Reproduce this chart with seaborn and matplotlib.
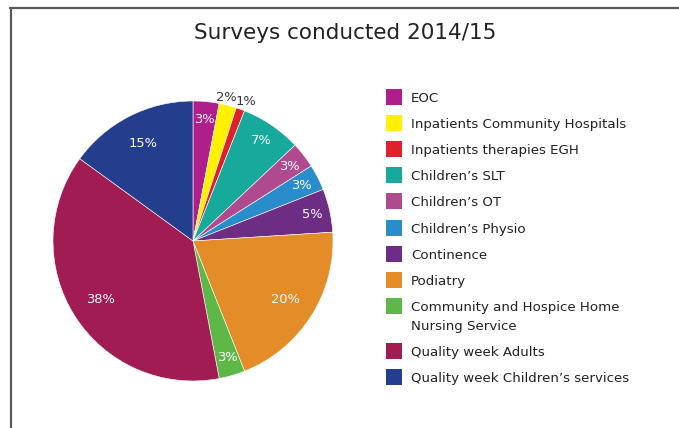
import matplotlib
matplotlib.use("Agg")
import matplotlib.pyplot as plt
from matplotlib.lines import Line2D
from matplotlib.patches import Rectangle
import numpy as np
import seaborn as sns

categories = [
    "EOC",
    "Inpatients Community Hospitals",
    "Inpatients therapies EGH",
    "Children\u2019s SLT",
    "Children\u2019s OT",
    "Children\u2019s Physio",
    "Continence",
    "Podiatry",
    "Community and Hospice Home\nNursing Service",
    "Quality week Adults",
    "Quality week Children\u2019s services",
]
shares = [3, 2, 1, 7, 3, 3, 5, 20, 3, 38, 15]
colors = [
    "#B01E8C", "#FFF100", "#E0212B", "#17A99B", "#B04A8F", "#2A8DCB",
    "#6E2D85", "#E38C28", "#5DB848", "#A11C53", "#243E8D",
]
# thin slices whose labels sit just outside the rim: (horizontal anchor, nudge)
outside_labels = {
    "Inpatients Community Hospitals": ("right", 0.045),
    "Inpatients therapies EGH": ("left", -0.055),
}

sns.set_theme(style="white")
plt.rcParams["font.family"] = ["DejaVu Sans"]

W, H = 679, 428
fig = plt.figure(figsize=(W / 100, H / 100), dpi=100)
fig.patch.set_facecolor("white")

# pie axes: centre (193, 241) px, radius 140 px
cx, cy, r = 193, 241, 140
ax = fig.add_axes([(cx - r) / W, (H - cy - r) / H, 2 * r / W, 2 * r / H])

wedges, _ = ax.pie(
    shares,
    colors=colors,
    startangle=90,
    counterclock=False,
    radius=1.0,
    wedgeprops=dict(linewidth=0.4, edgecolor="white"),
)
ax.set_xlim(-1, 1)
ax.set_ylim(-1, 1)
ax.set_aspect("equal")
ax.axis("off")

for w, name, val in zip(wedges, categories, shares):
    mid = np.deg2rad((w.theta1 + w.theta2) / 2)
    ha, shift = "center", 0.0
    if name in outside_labels:
        d, col = 1.06, "#333333"
        ha, shift = outside_labels[name]
    elif val >= 10:
        d, col = 0.78, "white"
    else:
        d, col = 0.87, "white"
    ax.text(d * np.cos(mid) + shift, d * np.sin(mid), f"{val}%", ha=ha, va="center",
            color=col, fontsize=9.4, clip_on=False)

# title
fig.text(345 / W, 1 - 39 / H, "Surveys conducted 2014/15", ha="center", va="baseline",
         fontsize=15.5, color="#222222")

# legend
row_y = [97, 123, 149, 175, 201, 228, 254, 280, 306, 351, 377]
line_gap = 19
for name, col, y in zip(categories, colors, row_y):
    fig.add_artist(Rectangle((386 / W, 1 - (y + 8) / H), 16 / W, 16 / H,
                             transform=fig.transFigure, facecolor=col, edgecolor="none"))
    for i, line in enumerate(name.split("\n")):
        fig.text(411 / W, 1 - (y + 5 + i * line_gap) / H, line, ha="left", va="baseline",
                 fontsize=9.6, color="#222222")

# frame lines
fig.add_artist(Line2D([10 / W, 1], [1 - 7.5 / H, 1 - 7.5 / H], transform=fig.transFigure,
                      color="#5a5a5a", lw=1.6))
fig.add_artist(Line2D([10.5 / W, 10.5 / W], [0, 1 - 7.5 / H], transform=fig.transFigure,
                      color="#5a5a5a", lw=1.6))

fig.savefig("out.png", dpi=100)
